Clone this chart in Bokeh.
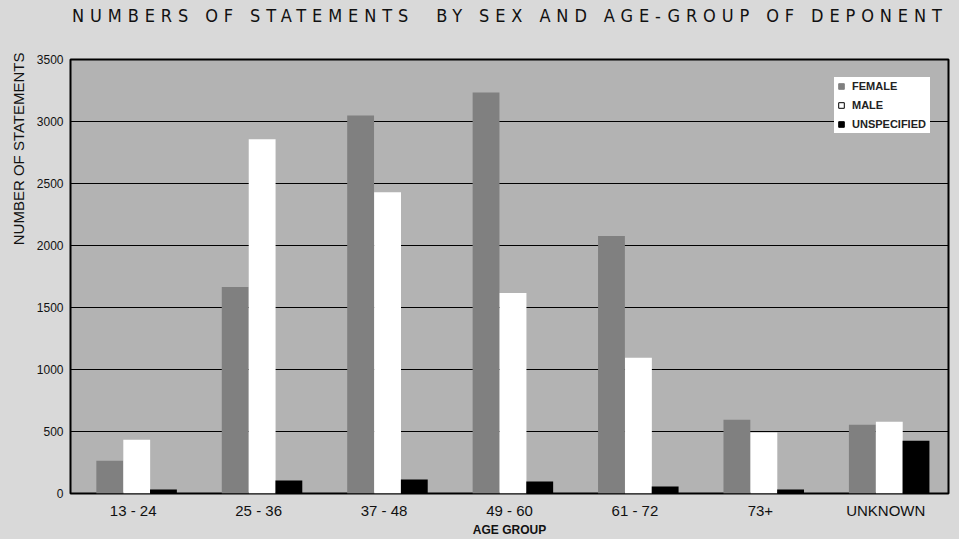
from bokeh.plotting import figure
from bokeh.models import ColumnDataSource, Legend, LegendItem, Title, Div, FactorRange
from bokeh.layouts import column
from bokeh.transform import dodge
from bokeh.embed import file_html
from bokeh.resources import INLINE

age_groups = ["13 - 24", "25 - 36", "37 - 48", "49 - 60", "61 - 72", "73+", "UNKNOWN"]
female = [265, 1665, 3049, 3234, 2076, 595, 555]
male = [434, 2856, 2430, 1617, 1094, 491, 579]
unspecified = [32, 105, 113, 97, 56, 32, 426]
y_ticks = [0, 500, 1000, 1500, 2000, 2500, 3000, 3500]

title_text = "NUMBERS OF STATEMENTS  BY SEX AND AGE-GROUP OF DEPONENT"

BG = "#d9d9d9"
PLOT_BG = "#b3b3b3"
FONT = "Liberation Sans"

src = ColumnDataSource(dict(age=age_groups, female=female, male=male, unspecified=unspecified))

p = figure(width=950, height=499, x_range=FactorRange(*age_groups, range_padding=0),
           y_range=(0, 3500), output_backend="svg", toolbar_location=None,
           min_border_left=66, min_border_right=2, min_border_top=19, min_border_bottom=43)
p.background_fill_color = PLOT_BG
p.border_fill_color = BG
p.outline_line_color = "black"
p.outline_line_width = 2

w = 0.214
p.vbar(x=dodge("age", -0.187, range=p.x_range), top="female", width=w, source=src,
       fill_color="#808080", line_color=None)
p.vbar(x=dodge("age", 0.028, range=p.x_range), top="male", width=w, source=src,
       fill_color="white", line_color=None)
p.vbar(x=dodge("age", 0.241, range=p.x_range), top="unspecified", width=w, source=src,
       fill_color="black", line_color=None)

# legend markers (points placed below the visible range)
hidden = ColumnDataSource(dict(x=[age_groups[0]], y=[-1000]))
lf = p.scatter("x", "y", source=hidden, marker="square", size=6, fill_color="#808080", line_color="#808080")
lm = p.scatter("x", "y", source=hidden, marker="square", size=6, fill_color="white", line_color="black", line_width=1)
lu = p.scatter("x", "y", source=hidden, marker="square", size=6, fill_color="black", line_color="black")

legend = Legend(items=[LegendItem(label="FEMALE", renderers=[lf]),
                       LegendItem(label="MALE", renderers=[lm]),
                       LegendItem(label="UNSPECIFIED", renderers=[lu])],
                location="top_right", margin=18, padding=8, spacing=1,
                label_height=18, label_width=78, glyph_height=18, glyph_width=14, label_standoff=4,
                label_text_font=FONT, label_text_font_style="bold", label_text_font_size="11px",
                label_text_color="#222222", background_fill_color="white", background_fill_alpha=1,
                border_line_color=None)
p.add_layout(legend, "center")

p.xgrid.grid_line_color = None
p.ygrid.grid_line_color = "black"
p.ygrid.grid_line_width = 1
p.yaxis.ticker = y_ticks

for ax in (p.xaxis[0], p.yaxis[0]):
    ax.axis_line_color = None
    ax.major_tick_line_color = None
    ax.minor_tick_line_color = None
    ax.major_tick_out = 0
    ax.major_tick_in = 0
    ax.major_label_text_font = FONT
    ax.major_label_text_color = "#111111"

p.yaxis.major_label_text_font_size = "12px"
p.yaxis.major_label_standoff = 7
p.xaxis.major_label_text_font_size = "15px"
p.xaxis.major_label_standoff = 8
p.xaxis.axis_label = "AGE GROUP"
p.xaxis.axis_label_text_font = FONT
p.xaxis.axis_label_text_font_style = "bold"
p.xaxis.axis_label_text_font_size = "12px"
p.xaxis.axis_label_text_color = "#111111"
p.xaxis.axis_label_standoff = 1

ytitle = Title(text="NUMBER OF STATEMENTS", align="right", text_font=FONT, text_font_style="normal",
               text_font_size="15px", text_color="#111111", standoff=14, offset=-7)
p.add_layout(ytitle, "left")

div = Div(text=title_text, width=950, height=30,
          styles={"font-family": "'Liberation Sans Narrow', 'DejaVu Sans Condensed', 'Liberation Sans', sans-serif",
                  "font-size": "18px", "letter-spacing": "5.9px", "white-space": "pre",
                  "text-indent": "67px", "line-height": "22px", "overflow": "hidden",
                  "background-color": BG, "color": "#111111"})

layout = column(div, p, spacing=0, styles={"background-color": BG})
open("out.html", "w").write(file_html(layout, INLINE))
